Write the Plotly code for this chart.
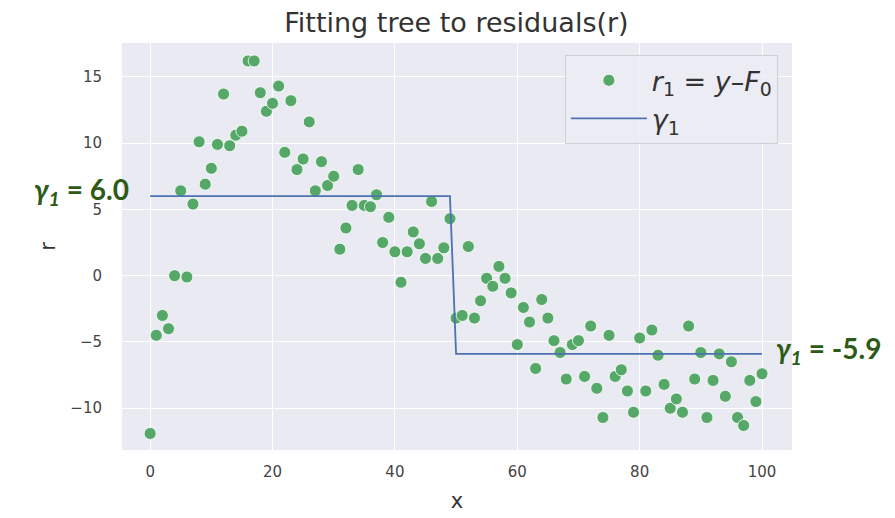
import plotly.graph_objects as go

# x positions of the samples
x = list(range(0, 101))

# residuals r1 = y - F0
r1 = [-11.9, -4.5, -3.0, -4.0, 0.0, 6.4, -0.1, 5.4, 10.1, 6.9,
      8.1, 9.9, 13.7, 9.8, 10.6, 10.9, 16.2, 16.2, 13.8, 12.4,
      13.0, 14.3, 9.3, 13.2, 8.0, 8.8, 11.6, 6.4, 8.6, 6.8,
      7.5, 2.0, 3.6, 5.3, 8.0, 5.3, 5.2, 6.1, 2.5, 4.4,
      1.8, -0.5, 1.8, 3.3, 2.4, 1.3, 5.6, 1.3, 2.1, 4.3,
      -3.2, -3.0, 2.2, -3.2, -1.9, -0.2, -0.8, 0.7, -0.2, -1.3,
      -5.2, -2.4, -3.5, -7.0, -1.8, -3.2, -4.9, -5.8, -7.8, -5.2,
      -4.9, -7.6, -3.8, -8.5, -10.7, -4.5, -7.6, -7.1, -8.7, -10.3,
      -4.7, -8.7, -4.1, -6.0, -8.2, -10.0, -9.3, -10.3, -3.8, -7.8,
      -5.8, -10.7, -7.9, -5.9, -9.1, -6.5, -10.7, -11.3, -7.9, -9.5,
      -7.4]

# tree prediction gamma_1 (left leaf / right leaf)
gamma_left = 6.0
gamma_right = -5.9
split_x = 50
gamma1 = [gamma_left if xi < split_x else gamma_right for xi in x]

x_ticks = [0, 20, 40, 60, 80, 100]
y_ticks = [-10, -5, 0, 5, 10, 15]

fig = go.Figure()
fig.add_trace(go.Scatter(
    x=x, y=r1, mode="markers",
    name="<i>r</i><sub>1</sub> = <i>y</i>–<i>F</i><sub>0</sub>",
    marker=dict(color="#55A868", size=12, line=dict(color="white", width=0.8)),
))
fig.add_trace(go.Scatter(
    x=x, y=gamma1, mode="lines",
    name="<i>γ</i><sub>1</sub>",
    line=dict(color="#4C72B0", width=1.8),
))

ann_color = "#2d5a16"
fig.add_annotation(x=-0.06, xref="paper", y=6.4, yref="y", xanchor="center",
                   text="<b><i>γ<sub>1</sub></i> = 6.0</b>", showarrow=False,
                   font=dict(family="Lato", size=28, color=ann_color))
fig.add_annotation(x=1.054, xref="paper", y=-5.6, yref="y", xanchor="center",
                   text="<b><i>γ<sub>1</sub></i> = -5.9</b>", showarrow=False,
                   font=dict(family="Lato", size=28, color=ann_color))

fig.update_layout(
    width=895, height=518,
    margin=dict(l=122, r=103, t=43, b=68),
    paper_bgcolor="white",
    plot_bgcolor="#EAEAF2",
    title=dict(text="Fitting tree to residuals(r)", x=0.51, xanchor="center",
               y=0.957, yanchor="middle",
               font=dict(family="DejaVu Sans", size=27, color="#333333")),
    font=dict(family="DejaVu Sans", color="#444444"),
    xaxis=dict(range=[-4.6, 104.9], tickvals=x_ticks, showgrid=True, automargin=False,
               gridcolor="white", gridwidth=1.3, zeroline=False, showline=False,
               ticks="outside", ticklen=8, tickcolor="rgba(0,0,0,0)",
               tickfont=dict(size=15, color="#444444"),
               title=dict(text="x", font=dict(size=21, color="#333333"), standoff=13)),
    yaxis=dict(range=[-13.15, 17.55], tickvals=y_ticks, showgrid=True, automargin=False,
               gridcolor="white", gridwidth=1.3, zeroline=False, showline=False,
               ticks="outside", ticklen=16, tickcolor="rgba(0,0,0,0)",
               tickfont=dict(size=15, color="#444444"),
               title=dict(text="r", font=dict(size=21, color="#333333"), standoff=8)),
    legend=dict(x=0.661, y=0.97, xanchor="left", yanchor="top",
                bgcolor="rgba(236,236,244,0.85)", bordercolor="#cfcfd6", borderwidth=1,
                font=dict(family="DejaVu Sans", size=27, color="#333333"),
                itemwidth=76),
    showlegend=True,
)

fig.write_html("out.html")
